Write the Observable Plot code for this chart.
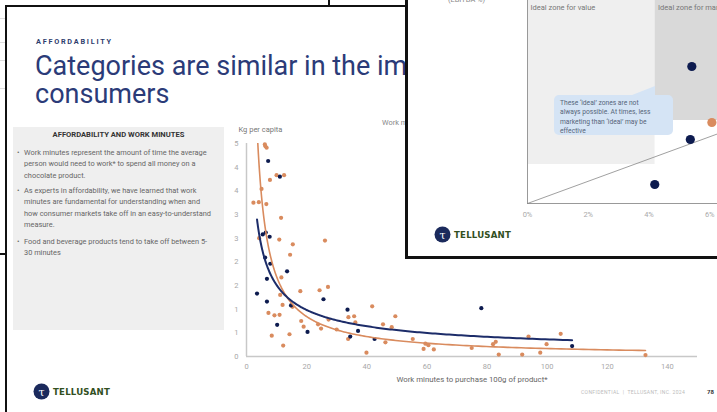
<!DOCTYPE html>
<html><head><meta charset="utf-8">
<script src="https://cdn.jsdelivr.net/npm/d3@7"></script>
<script src="https://cdn.jsdelivr.net/npm/@observablehq/plot@0.6"></script>
<style>
html,body{margin:0;padding:0;}
body{width:717px;height:412px;overflow:hidden;position:relative;background:#fff;font-family:Roboto,"Noto Sans",sans-serif;}
.abs{position:absolute;}
.ttl{position:absolute;left:35px;font-size:27px;line-height:26px;color:#2b3b78;white-space:nowrap;}
.logo{position:absolute;display:flex;align-items:center;gap:3px;}
.logo span{font-family:"DejaVu Sans",sans-serif;font-weight:bold;font-size:8.6px;color:#33501f;letter-spacing:0.2px;}
.bul{position:absolute;left:24px;font-size:7.4px;line-height:11.3px;color:#666;white-space:nowrap;}
.bul::before{content:"•";position:absolute;left:-7px;}
</style></head>
<body>
<!-- background slide (top-left) -->
<div class="abs" style="left:-400px;top:-200px;width:730px;height:455px;border:2px solid #111;box-sizing:border-box;background:#fff;z-index:1;"></div>
<div class="abs" style="left:0;top:18px;width:6px;height:1px;background:#ddd;z-index:1;"></div>
<div class="abs" style="left:0;top:42px;width:6px;height:1px;background:#ddd;z-index:1;"></div>
<div class="abs" style="left:0;top:60px;width:6px;height:1px;background:#ddd;z-index:1;"></div>
<div class="abs" style="left:0;top:88px;width:6px;height:1px;background:#ddd;z-index:1;"></div>

<!-- main slide -->
<div class="abs" style="left:5px;top:5px;width:800px;height:500px;border-top:2px solid #111;border-left:2px solid #111;background:#fff;z-index:2;"></div>
<div id="main" class="abs" style="left:0;top:0;width:717px;height:412px;z-index:3;">
  <div class="abs" style="left:36px;top:37px;font-size:7.3px;font-weight:bold;letter-spacing:1.75px;color:#2e3d6e;">AFFORDABILITY</div>
  <div class="ttl" style="top:53px;">Categories are similar in the impact of affordability on</div>
  <div class="ttl" style="top:81px;">consumers</div>
  <div class="abs" style="left:13px;top:127px;width:211px;height:203px;background:#efefef;">
    <div class="abs" style="left:0;top:3px;width:211px;text-align:center;font-size:7.6px;font-weight:bold;color:#333;">AFFORDABILITY AND WORK MINUTES</div>
    <div class="bul" style="top:20px;left:11px;">Work minutes represent the amount of time the average<br>person would need to work* to spend all money on a<br>chocolate product.</div>
    <div class="bul" style="top:58px;left:11px;">As experts in affordability, we have learned that work<br>minutes are fundamental for understanding when and<br>how consumer markets take off in an easy-to-understand<br>measure.</div>
    <div class="bul" style="top:109px;left:11px;">Food and beverage products tend to take off between 5-<br>30 minutes</div>
  </div>
  <div class="abs" style="left:382px;top:118px;font-size:7.4px;color:#888;white-space:nowrap;">Work minutes vs. consumption</div>
  <div id="chart1" class="abs" style="left:220px;top:120px;"></div>
  <div class="logo" style="left:33px;top:383px;">
    <svg width="17" height="17" viewBox="0 0 17 17"><circle cx="8.5" cy="8.5" r="8" fill="#1b2a5c"/><text x="8.5" y="12.5" text-anchor="middle" font-size="11" fill="#fff" font-family="DejaVu Serif">τ</text></svg>
    <span>TELLUSANT</span>
  </div>
  <div class="abs" style="left:581px;top:389px;font-size:5px;letter-spacing:0.35px;color:#bbb;white-space:nowrap;">CONFIDENTIAL&nbsp;&nbsp;|&nbsp;&nbsp;TELLUSANT, INC. 2024</div>
  <div class="abs" style="left:707px;top:388px;font-size:6px;font-weight:bold;color:#333;">78</div>
</div>

<!-- top-right slide -->
<div id="tr" class="abs" style="left:405px;top:-60px;width:400px;height:319px;border-left:3px solid #111;border-bottom:3px solid #111;box-sizing:border-box;background:#fff;overflow:hidden;z-index:4;">
  <div class="abs" style="left:40px;top:55px;font-size:7.4px;color:#888;white-space:nowrap;">(EBITDA %)</div>
  <div id="chart2" class="abs" style="left:89px;top:0px;"></div>
  <svg class="abs" style="left:0;top:0;" width="300" height="260">
    <polygon points="219,157 247,146 247,157" fill="#d5e4f5"/>
  </svg>
  <div class="abs" style="left:146px;top:155px;width:119px;height:40px;box-sizing:border-box;padding:4px 6px;background:#d5e4f5;border-radius:5px;font-size:6.7px;line-height:9.4px;color:#56657a;white-space:nowrap;">These ‘ideal’ zones are not<br>always possible. At times, less<br>marketing than ‘ideal’ may be<br>effective</div>
  <div class="logo" style="left:26px;top:286px;">
    <svg width="17" height="17" viewBox="0 0 17 17"><circle cx="8.5" cy="8.5" r="8" fill="#1b2a5c"/><text x="8.5" y="12.5" text-anchor="middle" font-size="11" fill="#fff" font-family="DejaVu Serif">τ</text></svg>
    <span>TELLUSANT</span>
  </div>
</div>

<script>
// ---- Main chart data: work minutes (x) vs kg per capita (y) ----
const orangeX = [2.3,4.1,4.2,5.0,6.1,6.3,6.7,6.6,7.3,7.8,8.4,9.3,10.0,10.9,11.0,11.2,11.5,11.6,12.0,12.2,12.5,14.3,14.5,15.3,15.4,17.9,18.2,19.0,23.8,24.3,24.8,26.1,27.1,27.3,30.0,33.8,33.9,35.8,36.2,39.9,41.8,45.4,46.2,48.3,49.5,55.3,58.9,59.5,60.5,62.3,74.9,82.0,82.9,83.9,91.7,93.8,97.7,99.8,104.5,132.7];
const orangeY = [3.25,3.26,2.50,3.54,4.48,4.44,4.41,3.22,0.92,3.73,0.44,0.87,3.83,2.47,0.88,1.30,2.93,1.67,1.09,0.23,3.83,0.47,2.15,1.05,2.37,1.38,0.75,0.63,0.68,1.40,0.59,2.45,1.47,0.78,0.57,0.37,0.83,0.85,0.72,0.08,1.06,0.68,0.30,0.62,0.85,0.37,0.16,0.27,0.24,0.15,0.18,0.26,0.31,0.04,0.04,0.42,0.08,0.26,0.48,0.03];
const navyX = [3.5,5.4,6.2,6.4,6.8,6.8,7.2,7.7,7.9,10.2,11.1,13.5,14.8,20.3,25.6,33.6,34.5,37.1,42.6,78.1,108.3];
const navyY = [1.33,2.58,2.09,2.62,1.64,1.16,4.13,2.53,1.96,0.67,3.80,1.80,1.08,0.52,1.21,0.99,0.42,0.54,0.37,1.02,0.22];
const xTicks = [0,20,40,60,80,100,120,140];
const yTicks = [0,0.5,1,1.5,2,2.5,3,3.5,4,4.5];

// ---- Top-right chart data: marketing % (x) vs EBITDA % (y) ----
const mktX = [5.41,5.36,4.19,6.07];
const mktY = [13.7,6.4,1.9,8.1];
const mktGroup = ["A","A","A","B"];
const zoneNames = ["Ideal zone for value","Ideal zone for marketing"];
const zoneX1 = [0,4.2], zoneX2 = [4.2,8], zoneY1 = [3.9,8.3], zoneY2 = [20.6,20.6];
const diagX = [0,8], diagY = [0,8.9];
const pctTicks = [0,2,4,6,8];

const ORANGE = "#d98b5e", NAVY = "#0d1b4f", NAVYLINE = "#1c2c69";

const orangePts = orangeX.map((x,i)=>({x, y: orangeY[i]}));
const navyPts = navyX.map((x,i)=>({x, y: navyY[i]}));

// Power trendline (least squares in log-log space), like a spreadsheet trendline
function powerTrend(pts){
  const X = pts.map(p=>Math.log(p.x)), Y = pts.map(p=>Math.log(p.y));
  const mx = d3.mean(X), my = d3.mean(Y);
  const b = d3.sum(X,(x,i)=>(x-mx)*(Y[i]-my)) / d3.sum(X,x=>(x-mx)**2);
  const a = Math.exp(my - b*mx);
  const [x0,x1] = d3.extent(pts,p=>p.x);
  return d3.range(240).map(i=>{ const x = x0*Math.pow(x1/x0, i/239); return {x, y: a*Math.pow(x,b)}; });
}
const orangeCurve = powerTrend(orangePts);
const navyCurve = powerTrend(navyPts);

const chart1 = Plot.plot({
  width: 497, height: 270,
  marginLeft: 26, marginRight: 20, marginTop: 23, marginBottom: 34,
  x: {domain: [0,150]},
  y: {domain: [0,4.5]},
  style: {background: "transparent", overflow: "visible", maxWidth: "none", fontFamily: "Roboto", fontSize: "7.5px", color: "#a8a8a8"},
  marks: [
    Plot.ruleY([0], {stroke: "#c8c8c8", strokeWidth: 1.5}),
    Plot.ruleX([0], {stroke: "#c8c8c8", strokeWidth: 1.5}),
    Plot.dot(orangePts, {x: "x", y: "y", r: 2.1, fill: ORANGE}),
    Plot.dot(navyPts, {x: "x", y: "y", r: 2.1, fill: NAVY}),
    Plot.line(orangeCurve, {x: "x", y: "y", stroke: ORANGE, strokeWidth: 1.6, clip: true}),
    Plot.line(navyCurve, {x: "x", y: "y", stroke: NAVYLINE, strokeWidth: 2, clip: true}),
    Plot.axisX({ticks: xTicks, tickSize: 0, tickPadding: 7, label: null}),
    Plot.axisY({ticks: yTicks, tickSize: 0, tickPadding: 8, tickFormat: d => Math.round(d), label: null}),
    Plot.text(["Kg per capita"], {frameAnchor: "top-left", dx: -8, dy: -17, textAnchor: "start", fill: "#777", fontSize: 7.5}),
    Plot.text(["Work minutes to purchase 100g of product*"], {frameAnchor: "bottom", dy: 25, fill: "#666", fontSize: 7.8})
  ]
});
document.getElementById("chart1").appendChild(chart1);

const zones = zoneNames.map((name,i)=>({name, x1: zoneX1[i], x2: zoneX2[i], y1: zoneY1[i], y2: zoneY2[i]}));
const zoneFill = ["#efefef","#d9d9d9"];
const mktPts = mktX.map((x,i)=>({x, y: mktY[i], g: mktGroup[i]}));
const diagonal = diagX.map((x,i)=>({x, y: diagY[i]}));

const chart2 = Plot.plot({
  width: 283, height: 283,
  marginLeft: 30, marginRight: 10, marginTop: 13, marginBottom: 20,
  x: {domain: [0,8]},
  y: {domain: [0,25], axis: null},
  color: {type: "ordinal", domain: ["A","B"], range: [NAVY, ORANGE]},
  style: {background: "transparent", overflow: "visible", maxWidth: "none", fontFamily: "Roboto", fontSize: "7.5px", color: "#aaa"},
  marks: [
    Plot.rect(zones, {x1: "x1", x2: "x2", y1: "y1", y2: "y2", fill: (d,i) => zoneFill[i]}),
    Plot.text(zones, {x: "x1", y: "y2", text: "name", dx: 3, dy: 7, lineAnchor: "top", textAnchor: "start", fill: "#777", fontSize: 7.5}),
    Plot.ruleX([0], {y1: 0, y2: 25, stroke: "#999"}),
    Plot.ruleY([0], {stroke: "#999"}),
    Plot.line(diagonal, {x: "x", y: "y", stroke: "#888", strokeWidth: 0.8}),
    Plot.dot(mktPts, {x: "x", y: "y", r: 4.6, fill: "g"}),
    Plot.axisX({ticks: pctTicks, tickSize: 0, tickPadding: 8, tickFormat: d => d + "%", label: null})
  ]
});
document.getElementById("chart2").appendChild(chart2);
</script>
</body></html>
